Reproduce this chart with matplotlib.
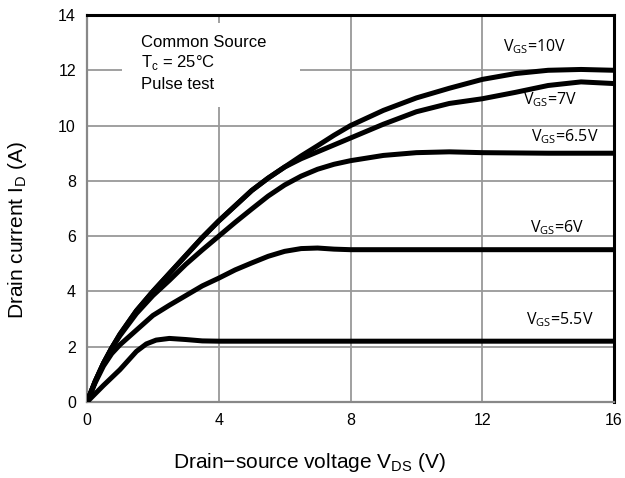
import matplotlib

matplotlib.use("Agg")
import matplotlib.pyplot as plt
from matplotlib.patches import Rectangle

# output characteristics (V_DS in V, I_D in A)
vds_10 = [0, 0.25, 0.5, 0.75, 1, 1.5, 2, 2.5, 3, 3.5, 4, 4.5, 5, 5.5, 6, 6.5, 7, 7.5, 8, 9, 10, 11, 12, 13, 14, 15, 16]
id_10 = [0, 0.75, 1.4, 1.95, 2.45, 3.3, 4.0, 4.65, 5.3, 5.95, 6.55, 7.1, 7.65, 8.1, 8.5, 8.9, 9.27, 9.65, 10.0, 10.55, 11.0, 11.35, 11.67, 11.88, 12.0, 12.03, 12.0]

vds_7 = [0, 0.25, 0.5, 0.75, 1, 1.5, 2, 2.5, 3, 3.5, 4, 4.5, 5, 5.5, 6, 6.5, 7, 7.5, 8, 9, 10, 11, 12, 13, 14, 15, 16]
id_7 = [0, 0.75, 1.4, 1.95, 2.45, 3.3, 4.0, 4.65, 5.3, 5.95, 6.55, 7.1, 7.65, 8.1, 8.5, 8.8, 9.05, 9.3, 9.55, 10.05, 10.5, 10.8, 10.97, 11.2, 11.45, 11.58, 11.52]

vds_65 = [0, 0.25, 0.5, 0.75, 1, 1.5, 2, 2.5, 3, 3.5, 4, 4.5, 5, 5.5, 6, 6.5, 7, 7.5, 8, 9, 10, 11, 12, 14, 16]
id_65 = [0, 0.75, 1.4, 1.95, 2.4, 3.2, 3.85, 4.4, 4.98, 5.5, 6.0, 6.5, 6.98, 7.45, 7.85, 8.17, 8.42, 8.6, 8.73, 8.92, 9.02, 9.05, 9.02, 9.0, 9.0]

vds_6 = [0, 0.25, 0.5, 0.75, 1, 1.5, 2, 2.5, 3, 3.5, 4, 4.5, 5, 5.5, 6, 6.5, 7, 7.5, 8, 12, 16]
id_6 = [0, 0.7, 1.3, 1.75, 2.07, 2.6, 3.13, 3.5, 3.85, 4.2, 4.48, 4.78, 5.03, 5.27, 5.45, 5.55, 5.57, 5.53, 5.51, 5.51, 5.51]

vds_55 = [0, 0.5, 1, 1.5, 1.8, 2.1, 2.5, 3, 3.5, 4, 8, 16]
id_55 = [0, 0.6, 1.17, 1.83, 2.1, 2.24, 2.3, 2.26, 2.21, 2.2, 2.2, 2.2]

curves = [(vds_10, id_10), (vds_7, id_7), (vds_65, id_65), (vds_6, id_6), (vds_55, id_55)]

# curve labels and where they sit
curve_labels = ["10V", "7V", "6.5V", "6V", "5.5V"]
label_x = [13.6, 14.05, 14.5, 14.27, 14.36]
label_y = [12.85, 10.93, 9.59, 6.3, 2.97]

x_ticks = [0, 4, 8, 12, 16]
y_ticks = [0, 2, 4, 6, 8, 10, 12, 14]

plt.rcParams["font.family"] = ["Liberation Sans", "DejaVu Sans"]

fig = plt.figure(figsize=(6.25, 4.78), dpi=100)
ax = fig.add_axes([87 / 625, 1 - 402 / 478, 527 / 625, 387 / 478])

ax.set_xlim(0, 16)
ax.set_ylim(0, 14)
ax.set_xticks(x_ticks)
ax.set_yticks(y_ticks)
ax.tick_params(length=0, labelsize=11.5, pad=8)
ax.grid(True, color="#999999", lw=1.3)
ax.set_axisbelow(True)

for side in ("left", "bottom"):
    ax.spines[side].set_color("#888888")
    ax.spines[side].set_linewidth(1.6)
for side in ("top", "right"):
    ax.spines[side].set_color("black")
    ax.spines[side].set_linewidth(2.2)

# white box behind the test conditions
ax.add_patch(Rectangle((1.06, 10.67), 5.4, 3.04, facecolor="white", edgecolor="none", zorder=1.5))

for vx, iy in curves:
    ax.plot(vx, iy, color="black", lw=3.6, solid_joinstyle="round", solid_capstyle="round", zorder=3)

for lab, lx, ly in zip(curve_labels, label_x, label_y):
    ax.text(lx, ly, r"V$_{\mathregular{GS}}$=" + lab, ha="center", va="center",
            fontsize=11.5, family=["Open Sans", "DejaVu Sans"], zorder=4)

ax.text(1.65, 13.01, "Common Source", fontsize=12, va="center", zorder=4)
ax.text(1.65, 12.29, r"T$_{\mathregular{c}}$ = 25°C", fontsize=12, va="center", zorder=4)
ax.text(1.65, 11.5, "Pulse test", fontsize=12, va="center", zorder=4)

fig.text(18 / 625, 1 - 230 / 478, r"Drain current I$_{\mathregular{D}}$ (A)", rotation=90,
         ha="center", va="center", fontsize=15)
fig.text(309 / 625, 1 - 462 / 478, r"Drain−source voltage V$_{\mathregular{DS}}$ (V)",
         ha="center", va="center", fontsize=15)

fig.savefig("out.png", dpi=100)
